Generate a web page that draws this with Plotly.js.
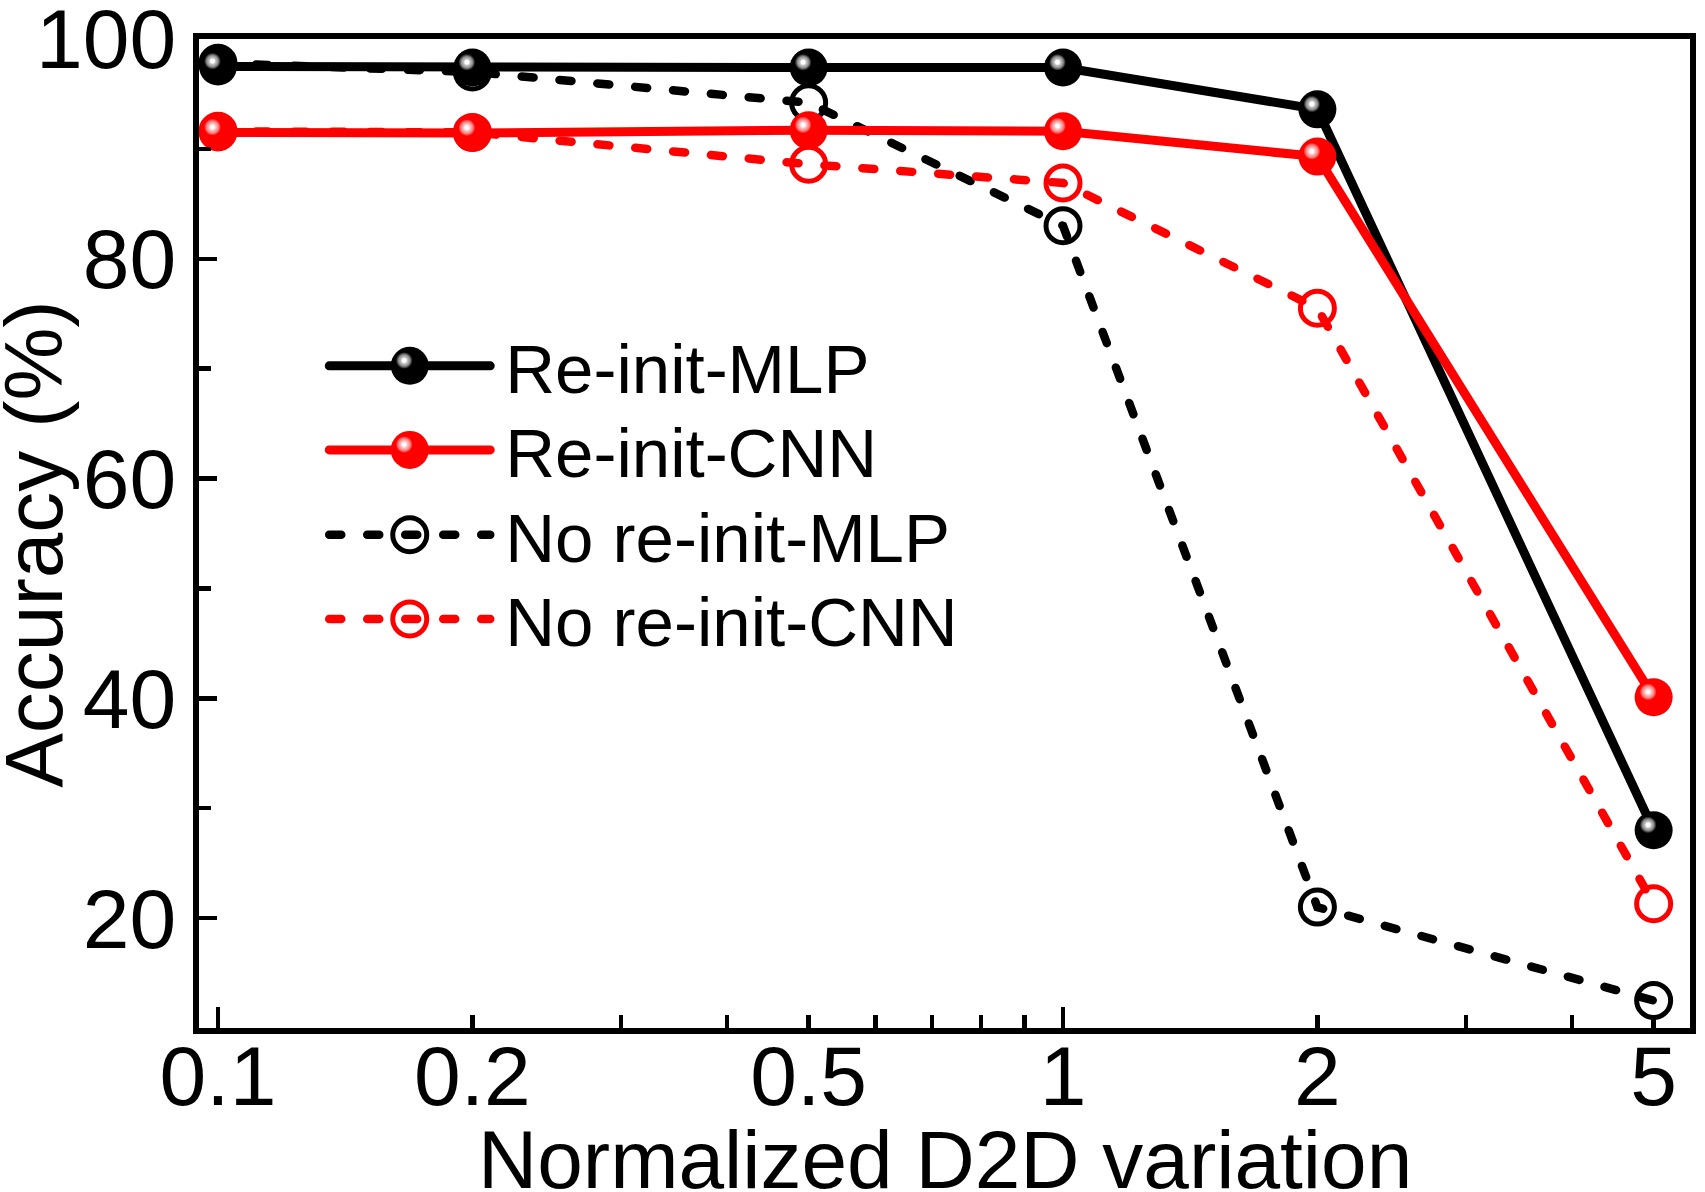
<!DOCTYPE html>
<html>
<head>
<meta charset="utf-8">
<script src="https://cdn.plot.ly/plotly-3.0.1.min.js"></script>
<style>
  html, body { margin: 0; padding: 0; background: #ffffff; }
  #chart { width: 1705px; height: 1192px; }
</style>
</head>
<body>
<div id="chart"></div>
<script>
// Accuracy (%) versus normalized device-to-device variation
const variation   = [0.1, 0.2, 0.5, 1, 2, 5];
const reinitMLP   = [97.5, 97.4, 97.4, 97.4, 93.6, 28.0];
const reinitCNN   = [91.5, 91.45, 91.7, 91.6, 89.3, 40.1];
const noReinitMLP = [97.8, 97.0, 94.2, 83.0, 21.0, 12.5];
const noReinitCNN = [91.6, 91.5, 88.6, 86.9, 75.5, 21.3];

const seriesNames = ['Re-init-MLP', 'Re-init-CNN', 'No re-init-MLP', 'No re-init-CNN'];

const xTickVals  = [0.1, 0.2, 0.5, 1, 2, 5];
const xTickText  = ['0.1', '0.2', '0.5', '1', '2', '5'];
const xMinorVals = [0.3, 0.4, 0.6, 0.7, 0.8, 0.9, 3, 4];
const xDecadeVals = [0.1, 1];
const yTickVals  = [20, 40, 60, 80, 100];

const xTitle = 'Normalized D2D variation';
const yTitle = 'Accuracy (%)';

const FONT = 'Liberation Sans, Arial, Helvetica, sans-serif';
const BLACK = '#000000';
const RED = '#ff0000';
const OPEN_RING = 5;

function solidSeries(name, y, color, legendId) {
  return {
    type: 'scatter', mode: 'lines+markers', name: name,
    x: variation, y: y, legend: legendId, cliponaxis: false,
    line: { color: color, width: 9 },
    marker: { symbol: 'circle', size: 38, color: color, line: { width: 0 },
              gradient: { type: 'radial', color: '#ffffff' } },
    hoverinfo: 'skip'
  };
}

function openSeries(name, y, color, legendId) {
  return {
    type: 'scatter', mode: 'lines+markers', name: name,
    x: variation, y: y, legend: legendId, cliponaxis: false,
    line: { color: color, width: 8.5, dash: '12px,26px' },
    marker: { symbol: 'circle-open', size: 34, color: color, line: { width: OPEN_RING, color: color } },
    hoverinfo: 'skip'
  };
}

// drawing order: dashed series underneath, solid series on top
const traces = [
  openSeries(seriesNames[2], noReinitMLP, BLACK, 'legend3'),
  openSeries(seriesNames[3], noReinitCNN, RED, 'legend4'),
  solidSeries(seriesNames[0], reinitMLP, BLACK, 'legend'),
  solidSeries(seriesNames[1], reinitCNN, RED, 'legend2'),
  // carrier for the long decade ticks on the overlaid axis
  { type: 'scatter', mode: 'none', x: variation, y: reinitMLP, xaxis: 'x2',
    showlegend: false, hoverinfo: 'skip' }
];

const X_RANGE = [-1.0225, 0.742];

function legendBox(yPos) {
  return {
    x: 0.084, y: yPos, xanchor: 'left', yanchor: 'middle',
    bgcolor: 'rgba(0,0,0,0)', borderwidth: 0,
    font: { family: FONT, size: 69, color: '#000' },
    itemwidth: 171, itemclick: false, itemdoubleclick: false
  };
}

const tickStyle = { ticks: 'inside', tickwidth: 4.5, tickcolor: '#000', ticklabeloverflow: 'allow' };

const layout = {
  width: 1705, height: 1192,
  margin: { l: 199, r: 15, t: 39, b: 164, pad: 0 },
  paper_bgcolor: '#ffffff', plot_bgcolor: '#ffffff',
  font: { family: FONT, size: 84, color: '#000' },
  showlegend: true,
  legend:  legendBox(0.6694),
  legend2: legendBox(0.5844),
  legend3: legendBox(0.4985),
  legend4: legendBox(0.4135),
  xaxis: Object.assign({
    type: 'log', range: X_RANGE, fixedrange: true,
    tickmode: 'array', tickvals: xTickVals, ticktext: xTickText, ticklen: 13,
    tickfont: { family: FONT, size: 84, color: '#000' }, ticklabelstandoff: -30,
    showline: true, linewidth: 6, linecolor: '#000', mirror: true,
    showgrid: false, zeroline: false,
    minor: { tickmode: 'array', tickvals: xMinorVals, ticks: 'inside',
             ticklen: 13, tickwidth: 4.5, tickcolor: '#000', showgrid: false }
  }, tickStyle),
  xaxis2: Object.assign({
    type: 'log', range: X_RANGE, overlaying: 'x', anchor: 'y', side: 'bottom',
    fixedrange: true, tickmode: 'array', tickvals: xDecadeVals, ticklen: 21,
    showticklabels: false, showline: false, showgrid: false, zeroline: false
  }, tickStyle),
  yaxis: Object.assign({
    range: [10, 100], fixedrange: true,
    tickmode: 'array', tickvals: yTickVals, ticklen: 18,
    tickfont: { family: FONT, size: 84, color: '#000' },
    showline: true, linewidth: 6, linecolor: '#000', mirror: true,
    showgrid: false, zeroline: false,
    minor: { tick0: 0, dtick: 10, ticks: 'inside', ticklen: 12, tickwidth: 4.5,
             tickcolor: '#000', showgrid: false }
  }, tickStyle),
  annotations: [
    { text: xTitle, xref: 'paper', yref: 'paper', x: 0.5, y: -0.0847,
      xanchor: 'center', yanchor: 'top', showarrow: false,
      font: { family: FONT, size: 82, color: '#000' } },
    { text: yTitle, xref: 'paper', yref: 'paper', x: -0.1111, y: 0.4899,
      xanchor: 'center', yanchor: 'middle', textangle: -90, showarrow: false,
      font: { family: FONT, size: 82, color: '#000' } }
  ]
};

const SVGNS = 'http://www.w3.org/2000/svg';

// glossy highlight on the filled markers
function shineGradients(gd) {
  gd.querySelectorAll('radialGradient').forEach(function (g) {
    if (g.getAttribute('data-shine')) return;
    const stops = Array.from(g.querySelectorAll('stop'));
    let base = null;
    stops.forEach(function (s) {
      const c = (s.getAttribute('stop-color') || '').replace(/\s/g, '');
      if (c && c !== 'rgb(255,255,255)' && c.toLowerCase() !== '#ffffff') base = c;
    });
    if (!base) return;
    const isRed = base === 'rgb(255,0,0)';
    const palette = isRed
      ? [[0, '#ffffff'], [0.1, '#ffffff'], [0.17, '#ffc4c4'], [0.3, '#ff8a8a'], [0.38, '#ff4a4a'], [0.44, base], [1, base]]
      : [[0, '#ffffff'], [0.1, '#ffffff'], [0.17, '#c4c4c4'], [0.3, '#8c8c8c'], [0.38, '#404040'], [0.44, base], [1, base]];
    g.setAttribute('data-shine', '1');
    g.setAttribute('cx', '0.355'); g.setAttribute('cy', '0.36');
    g.setAttribute('fx', '0.355'); g.setAttribute('fy', '0.36');
    g.setAttribute('r', '0.5');
    stops.forEach(function (s) { s.remove(); });
    palette.forEach(function (p) {
      const s = document.createElementNS(SVGNS, 'stop');
      s.setAttribute('offset', p[0]);
      s.setAttribute('stop-color', p[1]);
      g.appendChild(s);
    });
  });
}

function traceOf(el) {
  const d = el.__data__;
  return d && d[0] && d[0].trace ? d[0].trace : null;
}

function isOpenTrace(tr) {
  return tr && tr.marker && String(tr.marker.symbol).indexOf('open') !== -1;
}

// long legend keys with full-size markers, rounded dash ends, heavy open rings
function styleLegendAndLines(gd) {
  gd.querySelectorAll('.js-line').forEach(function (p) {
    p.style.strokeLinecap = 'round';
  });
  const plotMarker = {};
  gd.querySelectorAll('.scatterlayer .trace').forEach(function (el) {
    const tr = traceOf(el);
    if (!tr) return;
    const pts = el.querySelectorAll('.points path.point');
    if (isOpenTrace(tr)) {
      pts.forEach(function (p) { p.style.strokeWidth = tr.marker.line.width + 'px'; });
    }
    if (pts.length) plotMarker[tr.index] = pts[0].getAttribute('d');
  });
  const keyLen = 161;
  gd.querySelectorAll('g.traces').forEach(function (item) {
    const tr = traceOf(item);
    if (!tr) return;
    item.querySelectorAll('.legendlines path').forEach(function (p) {
      p.setAttribute('d', 'M5,0h' + keyLen);
      p.style.strokeLinecap = 'round';
    });
    item.querySelectorAll('.legendpoints path.scatterpts').forEach(function (p) {
      if (plotMarker[tr.index]) p.setAttribute('d', plotMarker[tr.index]);
      if (isOpenTrace(tr)) p.style.strokeWidth = tr.marker.line.width + 'px';
      p.setAttribute('transform', 'translate(' + (5 + keyLen / 2) + ',0)');
    });
  });
}

const gd = document.getElementById('chart');
Plotly.newPlot(gd, traces, layout, { staticPlot: true, displayModeBar: false }).then(function () {
  shineGradients(gd);
  styleLegendAndLines(gd);
  gd.on && gd.on('plotly_afterplot', function () { shineGradients(gd); styleLegendAndLines(gd); });
});
</script>
</body>
</html>
